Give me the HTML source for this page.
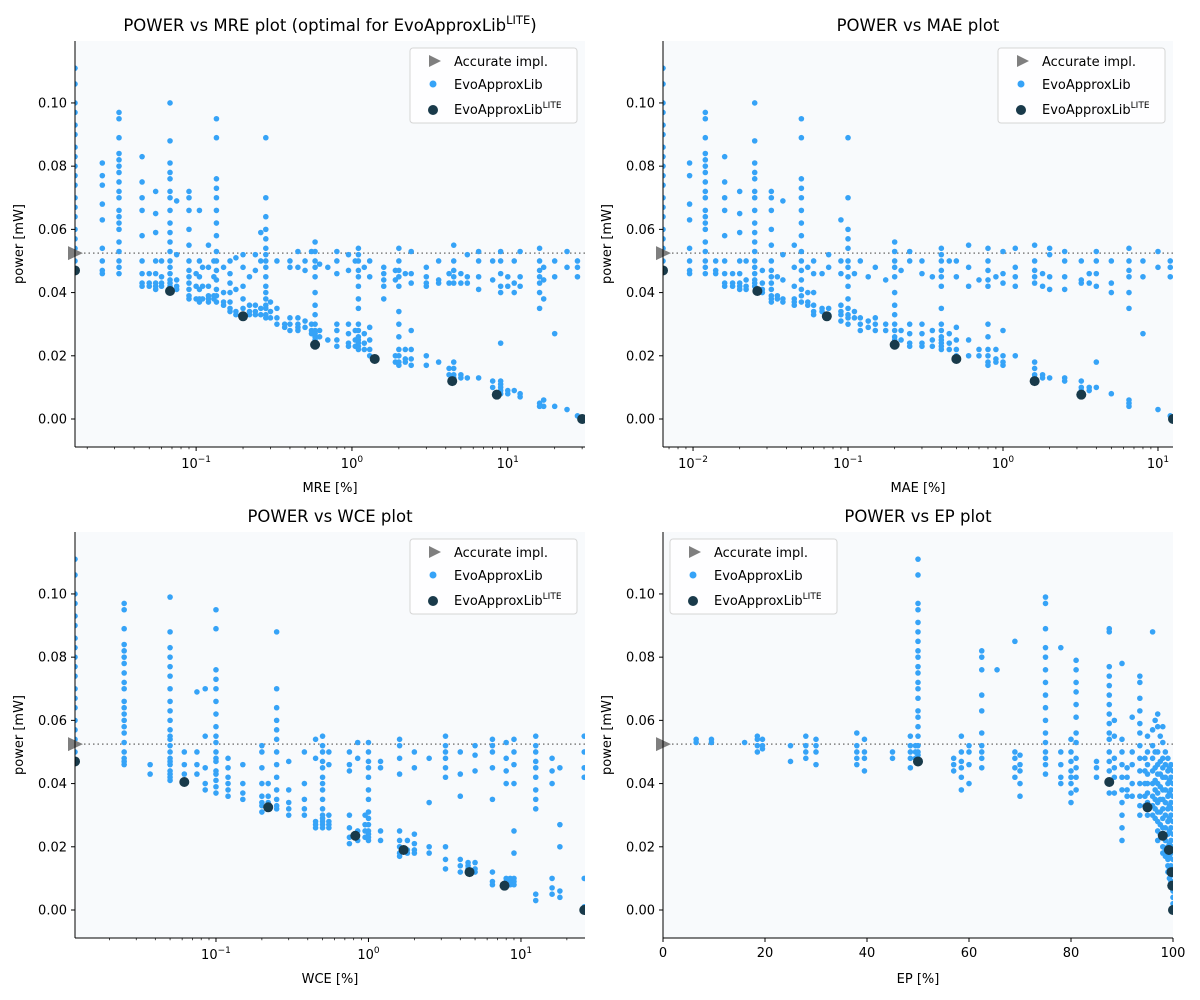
<!DOCTYPE html>
<html><head><meta charset="utf-8"><style>
html,body{margin:0;padding:0;background:#fff;}
svg{display:block;font-family:"DejaVu Sans","Liberation Sans",sans-serif;}
</style></head><body>
<svg id="chart" width="1200" height="1000" viewBox="0 0 1200 1000" xmlns="http://www.w3.org/2000/svg"></svg>
<script>
// ---------- DATA ----------
const yTicks = [0.00, 0.02, 0.04, 0.06, 0.08, 0.10];
const accuratePower = 0.0525;

// MRE panel
const mreColX = [0.0167,0.025,0.032,0.045,0.05,0.055,0.06,0.068,0.075,0.09,0.1,0.105,0.11,0.12,0.13,0.135,0.15,0.165,0.18,0.2,0.22,0.24,0.26,0.28,0.3,0.33,0.37,0.4,0.45,0.5,0.55,0.58,0.62,0.7,0.8,0.95,1.05,1.1,1.2,1.3,1.6,1.9,2.0,2.2,2.4,3.0,3.6,4.2,4.5,5.0,5.5,6.5,8,9,10,11,12,16,17,20,24,28];
const mreColY = [
 [0.111,0.106,0.1,0.097,0.093,0.09,0.086,0.083,0.08,0.077,0.074,0.07,0.067,0.064,0.06,0.057,0.054,0.05],
 [0.081,0.077,0.074,0.068,0.063,0.054,0.05,0.047,0.046],
 [0.097,0.095,0.089,0.084,0.082,0.08,0.078,0.075,0.072,0.07,0.066,0.064,0.062,0.06,0.056,0.053,0.05,0.048,0.046],
 [0.083,0.075,0.07,0.066,0.058,0.05,0.046,0.043,0.042],
 [0.046,0.043,0.042],
 [0.072,0.065,0.059,0.05,0.046,0.043,0.042,0.041],
 [0.05,0.045,0.043,0.042],
 [0.1,0.088,0.081,0.078,0.076,0.072,0.07,0.066,0.062,0.059,0.056,0.053,0.05,0.048,0.046,0.044,0.043,0.042],
 [0.069,0.052,0.044,0.042,0.041],
 [0.072,0.07,0.066,0.06,0.055,0.05,0.047,0.045,0.043,0.041,0.039,0.038],
 [0.046,0.042,0.038],
 [0.066,0.05,0.045,0.041,0.038,0.037],
 [0.048,0.042,0.038],
 [0.055,0.048,0.042,0.039,0.038,0.037],
 [0.05,0.045,0.039,0.038],
 [0.095,0.089,0.076,0.073,0.07,0.066,0.062,0.058,0.053,0.05,0.047,0.044,0.041,0.039,0.037],
 [0.048,0.04,0.037,0.036],
 [0.05,0.046,0.043,0.04,0.037,0.035,0.034],
 [0.051,0.041,0.034,0.033],
 [0.052,0.048,0.042,0.038,0.035,0.033],
 [0.045,0.036,0.034,0.033],
 [0.052,0.047,0.036,0.034,0.033],
 [0.059,0.05,0.035,0.033],
 [0.089,0.07,0.064,0.06,0.057,0.054,0.052,0.05,0.048,0.045,0.042,0.04,0.038,0.036,0.035,0.033,0.032],
 [0.037,0.034,0.032],
 [0.05,0.035,0.032,0.03],
 [0.03,0.029],
 [0.05,0.048,0.032,0.03,0.028],
 [0.053,0.048,0.032,0.03,0.028,0.029],
 [0.05,0.047,0.031,0.029],
 [0.053,0.03,0.028,0.027],
 [0.056,0.053,0.05,0.048,0.045,0.04,0.036,0.033,0.03,0.028,0.027,0.026,0.025],
 [0.049,0.028,0.026],
 [0.048,0.025],
 [0.053,0.05,0.046,0.03,0.028,0.025,0.023],
 [0.052,0.047,0.03,0.027,0.024,0.023],
 [0.05,0.028,0.025,0.023],
 [0.054,0.052,0.05,0.047,0.045,0.042,0.038,0.035,0.03,0.028,0.026,0.025,0.024,0.023,0.022],
 [0.048,0.027,0.024,0.022],
 [0.05,0.045,0.029,0.025,0.022,0.02],
 [0.048,0.046,0.044,0.042,0.038],
 [0.047,0.044,0.02,0.018],
 [0.054,0.05,0.047,0.045,0.042,0.034,0.03,0.026,0.022,0.02,0.018,0.017],
 [0.046,0.022,0.019,0.018],
 [0.053,0.046,0.043,0.028,0.022,0.019,0.017],
 [0.048,0.045,0.043,0.042,0.02,0.017],
 [0.05,0.044,0.043,0.018],
 [0.046,0.043,0.016,0.014],
 [0.055,0.05,0.047,0.045,0.043,0.018,0.016,0.014,0.013,0.012],
 [0.046,0.043,0.014,0.013],
 [0.052,0.045,0.043,0.013],
 [0.053,0.05,0.045,0.041,0.013],
 [0.05,0.044,0.012,0.01],
 [0.053,0.05,0.046,0.042,0.04,0.024,0.012,0.011,0.01,0.009,0.008],
 [0.045,0.042,0.009,0.008],
 [0.05,0.043,0.04,0.009],
 [0.053,0.045,0.042,0.008,0.007],
 [0.054,0.05,0.047,0.045,0.043,0.04,0.035,0.005,0.004],
 [0.048,0.044,0.038,0.006,0.004],
 [0.05,0.045,0.027,0.004],
 [0.053,0.048,0.003],
 [0.05,0.048,0.045,0.001]
];
const mreLiteX = [0.0167,0.068,0.2,0.58,1.4,4.4,8.5,30];
const mreLiteY = [0.047,0.0405,0.0325,0.0235,0.019,0.012,0.0077,0.0];

// MAE panel
const maeColX = [0.0064,0.0095,0.012,0.014,0.016,0.018,0.02,0.022,0.025,0.028,0.032,0.035,0.038,0.045,0.05,0.055,0.06,0.068,0.075,0.09,0.1,0.11,0.12,0.135,0.15,0.175,0.2,0.22,0.25,0.3,0.35,0.4,0.45,0.5,0.6,0.7,0.8,0.9,1.0,1.2,1.6,1.8,2.0,2.5,3.2,3.6,4,5,6.5,8,10,12];
const maeColY = [
 [0.111,0.106,0.1,0.097,0.093,0.09,0.086,0.083,0.08,0.077,0.074,0.07,0.067,0.064,0.06,0.057,0.054,0.05],
 [0.081,0.077,0.068,0.063,0.054,0.05,0.047,0.046],
 [0.097,0.095,0.089,0.084,0.082,0.08,0.078,0.075,0.072,0.07,0.066,0.064,0.062,0.06,0.056,0.053,0.05,0.048,0.046],
 [0.05,0.047,0.046],
 [0.083,0.075,0.07,0.066,0.058,0.05,0.046,0.043,0.042],
 [0.046,0.043,0.042],
 [0.072,0.065,0.059,0.05,0.046,0.043,0.042,0.041],
 [0.05,0.044,0.042,0.041],
 [0.1,0.088,0.081,0.078,0.076,0.072,0.07,0.066,0.062,0.059,0.056,0.053,0.05,0.048,0.046,0.044,0.043,0.042],
 [0.047,0.043,0.041,0.04],
 [0.072,0.07,0.066,0.06,0.055,0.05,0.047,0.045,0.043,0.041,0.039,0.038,0.037],
 [0.045,0.039,0.038],
 [0.069,0.052,0.044,0.038,0.037],
 [0.055,0.048,0.042,0.038,0.037,0.036],
 [0.095,0.089,0.076,0.073,0.07,0.066,0.062,0.058,0.053,0.05,0.047,0.044,0.041,0.039,0.037],
 [0.048,0.04,0.037,0.036],
 [0.05,0.046,0.04,0.036,0.034,0.033],
 [0.046,0.035,0.034],
 [0.052,0.048,0.035,0.033],
 [0.063,0.05,0.046,0.036,0.034,0.033,0.031],
 [0.089,0.07,0.06,0.057,0.054,0.05,0.048,0.045,0.042,0.038,0.035,0.033,0.032,0.03],
 [0.046,0.034,0.032],
 [0.05,0.032,0.03,0.028],
 [0.045,0.031,0.029],
 [0.048,0.032,0.03,0.028],
 [0.044,0.03,0.028],
 [0.056,0.053,0.05,0.048,0.045,0.04,0.036,0.033,0.03,0.028,0.026,0.025,0.024],
 [0.047,0.028,0.025],
 [0.053,0.05,0.03,0.027,0.024,0.023],
 [0.05,0.046,0.03,0.027,0.024,0.023],
 [0.045,0.028,0.025,0.023],
 [0.054,0.052,0.05,0.047,0.045,0.042,0.035,0.03,0.028,0.026,0.025,0.024,0.023,0.022],
 [0.05,0.027,0.024,0.022],
 [0.05,0.045,0.029,0.025,0.022,0.02],
 [0.055,0.048,0.042,0.025,0.02],
 [0.044,0.022,0.02],
 [0.054,0.05,0.047,0.044,0.042,0.03,0.026,0.022,0.02,0.018,0.017],
 [0.045,0.022,0.019,0.018],
 [0.053,0.046,0.043,0.028,0.02,0.018,0.017],
 [0.054,0.048,0.045,0.042,0.02],
 [0.055,0.05,0.047,0.045,0.043,0.018,0.016,0.014,0.013,0.012],
 [0.046,0.042,0.014,0.013],
 [0.054,0.052,0.045,0.041,0.013],
 [0.053,0.05,0.045,0.041,0.013,0.012],
 [0.05,0.044,0.043,0.012,0.01,0.009,0.008],
 [0.046,0.043,0.01,0.009],
 [0.053,0.05,0.046,0.042,0.018,0.01],
 [0.05,0.043,0.04,0.008],
 [0.054,0.05,0.047,0.045,0.04,0.035,0.006,0.005,0.004],
 [0.05,0.045,0.027],
 [0.053,0.048,0.003],
 [0.05,0.048,0.045,0.001]
];
const maeLiteX = [0.0064,0.026,0.073,0.2,0.5,1.6,3.2,12.5];
const maeLiteY = [0.047,0.0405,0.0325,0.0235,0.019,0.012,0.0077,0.0];

// WCE panel
const wceColX = [0.0119,0.025,0.037,0.05,0.062,0.075,0.085,0.1,0.12,0.15,0.2,0.22,0.25,0.3,0.38,0.45,0.5,0.55,0.75,0.85,0.95,1.0,1.2,1.6,1.8,2.0,2.5,3.2,4.0,4.5,5.0,6.5,8,8.5,9,12.5,16,18,26];
const wceColY = [
 [0.111,0.106,0.1,0.097,0.093,0.09,0.086,0.083,0.08,0.077,0.074,0.07,0.067,0.064,0.06,0.057,0.054,0.05],
 [0.097,0.095,0.089,0.084,0.082,0.08,0.078,0.075,0.072,0.07,0.066,0.064,0.062,0.06,0.058,0.056,0.053,0.05,0.048,0.047,0.046],
 [0.046,0.043],
 [0.099,0.088,0.083,0.08,0.077,0.074,0.07,0.066,0.063,0.06,0.057,0.055,0.054,0.052,0.05,0.048,0.047,0.046,0.044,0.043,0.042,0.041],
 [0.05,0.046,0.043,0.041],
 [0.069,0.05,0.046,0.043],
 [0.07,0.055,0.045,0.04,0.038],
 [0.095,0.089,0.076,0.073,0.07,0.066,0.062,0.058,0.055,0.053,0.05,0.048,0.047,0.044,0.043,0.041,0.039,0.037],
 [0.048,0.045,0.042,0.04,0.038,0.036],
 [0.046,0.04,0.037,0.035],
 [0.052,0.05,0.045,0.04,0.036,0.034,0.033,0.031],
 [0.04,0.036,0.034,0.032],
 [0.088,0.07,0.064,0.06,0.057,0.054,0.05,0.046,0.042,0.038,0.035,0.033,0.032],
 [0.047,0.038,0.034,0.032,0.03],
 [0.05,0.04,0.035,0.032,0.03],
 [0.054,0.048,0.028,0.027,0.026],
 [0.055,0.052,0.05,0.047,0.045,0.042,0.04,0.038,0.035,0.032,0.03,0.029,0.028,0.027,0.026],
 [0.05,0.046,0.03,0.028,0.027,0.026],
 [0.05,0.046,0.044,0.03,0.026,0.023,0.021],
 [0.053,0.048,0.025,0.022],
 [0.03,0.027,0.025,0.023],
 [0.053,0.05,0.047,0.045,0.042,0.038,0.035,0.031,0.029,0.027,0.025,0.024,0.023,0.022],
 [0.047,0.045,0.025,0.022],
 [0.054,0.052,0.048,0.043,0.025,0.022,0.02,0.018,0.017],
 [0.022,0.019,0.018],
 [0.05,0.045,0.024,0.021,0.019,0.018],
 [0.048,0.034,0.02,0.018],
 [0.055,0.052,0.05,0.048,0.045,0.042,0.02,0.016,0.013],
 [0.05,0.043,0.036,0.016,0.014,0.012],
 [0.015,0.014,0.013],
 [0.052,0.049,0.044,0.015,0.013,0.012],
 [0.054,0.052,0.05,0.045,0.035,0.012,0.009,0.008],
 [0.053,0.048,0.044,0.04,0.01,0.009,0.008],
 [0.01,0.009,0.008],
 [0.054,0.05,0.046,0.04,0.025,0.018,0.01,0.009,0.008],
 [0.055,0.052,0.05,0.047,0.045,0.042,0.038,0.035,0.032,0.005,0.003],
 [0.048,0.044,0.04,0.01,0.007,0.005],
 [0.045,0.027,0.02,0.006,0.004],
 [0.055,0.05,0.045,0.042,0.01,0.001,0.0]
];
const wceLiteX = [0.0119,0.062,0.22,0.82,1.7,4.6,7.8,26];
const wceLiteY = [0.047,0.0405,0.0325,0.0235,0.019,0.012,0.0077,0.0];

// EP panel
const epColX = [6.5,9.5,16,18.5,19.5,25,28,30,38,39.5,45,48.5,49.5,50,57,58.5,60,62.5,65.5,69,70,75,78,80,81,85,87.5,88.5,90,91,92,93.5,94.5,95,96,96.5,97,97.5,98,98.5,99,99.3,99.6,100];
const epColY = [
 [0.054,0.053],
 [0.054,0.053],
 [0.053],
 [0.055,0.054,0.052,0.05],
 [0.054,0.052,0.051],
 [0.052,0.047],
 [0.055,0.052,0.05,0.048],
 [0.054,0.052,0.05,0.046],
 [0.056,0.052,0.05,0.048,0.046],
 [0.054,0.05,0.048,0.044],
 [0.05,0.048],
 [0.055,0.052,0.05,0.048,0.045],
 [0.052,0.05,0.048],
 [0.111,0.106,0.097,0.095,0.091,0.088,0.085,0.082,0.08,0.077,0.075,0.072,0.07,0.067,0.063,0.061,0.058,0.055,0.052,0.05,0.049],
 [0.048,0.046,0.044],
 [0.055,0.05,0.047,0.045,0.042,0.038],
 [0.052,0.05,0.046,0.04],
 [0.082,0.08,0.076,0.068,0.063,0.056,0.052,0.05,0.048,0.045],
 [0.076],
 [0.085,0.05,0.048,0.045,0.042],
 [0.049,0.046,0.044,0.04,0.036],
 [0.099,0.097,0.089,0.083,0.08,0.076,0.072,0.068,0.064,0.06,0.056,0.053,0.05,0.048,0.046,0.043],
 [0.083,0.05,0.046,0.042,0.04],
 [0.054,0.05,0.047,0.044,0.042,0.04,0.037,0.034],
 [0.079,0.076,0.072,0.069,0.065,0.061,0.056,0.053,0.048,0.045,0.042,0.038],
 [0.047,0.045,0.042],
 [0.089,0.088,0.077,0.074,0.071,0.068,0.065,0.062,0.059,0.056,0.054,0.05,0.047,0.044,0.04,0.037],
 [0.06,0.055,0.048,0.045,0.042,0.037],
 [0.078,0.054,0.05,0.046,0.042,0.038,0.034,0.03,0.026,0.022],
 [0.045,0.042,0.038,0.036],
 [0.061,0.05,0.046,0.04,0.036],
 [0.074,0.072,0.067,0.063,0.059,0.056,0.052,0.048,0.044,0.04,0.036,0.033,0.03],
 [0.048,0.044,0.04,0.036,0.033],
 [0.055,0.05,0.046,0.043,0.04,0.037,0.034,0.032,0.03],
 [0.088,0.057,0.052,0.048,0.044,0.04,0.036,0.033,0.03],
 [0.06,0.05,0.045,0.041,0.038,0.035,0.032,0.029],
 [0.062,0.058,0.05,0.046,0.043,0.04,0.037,0.034,0.031,0.028,0.025,0.022],
 [0.055,0.047,0.043,0.039,0.035,0.031,0.027,0.024],
 [0.058,0.053,0.048,0.045,0.042,0.038,0.035,0.032,0.029,0.026,0.023,0.02,0.018],
 [0.05,0.046,0.042,0.038,0.034,0.03,0.026,0.022,0.019,0.017],
 [0.048,0.044,0.04,0.036,0.032,0.028,0.024,0.02,0.016,0.014,0.012],
 [0.045,0.041,0.037,0.033,0.029,0.025,0.021,0.017,0.013,0.01],
 [0.046,0.042,0.038,0.034,0.03,0.026,0.022,0.018,0.014,0.011,0.009],
 [0.044,0.04,0.036,0.032,0.028,0.024,0.02,0.016,0.012,0.009,0.006,0.004,0.002,0.0]
];
const epLiteX = [50,87.5,95,98,99.2,99.7,99.85,100];
const epLiteY = [0.047,0.0405,0.0325,0.0235,0.019,0.012,0.0077,0.0];

// ---------- DRAWING ----------
const NS = "http://www.w3.org/2000/svg";
const svg = document.getElementById('chart');
function mk(tag, attrs, parent){
  const e = document.createElementNS(NS, tag);
  for (const k in attrs) e.setAttribute(k, attrs[k]);
  (parent||svg).appendChild(e);
  return e;
}
const BLUE = '#36a3f7', DARK = '#193a4a', GRAY = '#7f7f7f';

function panel(cfg){
  const g = mk('g', {});
  
  
  const L = cfg.left, R = cfg.left + 510, T = cfg.top, B = cfg.top + 406;
  const yMin = -0.00886, yMax = 0.1196;
  const sy = v => B - (v - yMin) / (yMax - yMin) * (B - T);
  let sx;
  if (cfg.log) {
    const a = Math.log10(cfg.xMin), b = Math.log10(cfg.xMax);
    sx = v => L + (Math.log10(v) - a) / (b - a) * (R - L);
  } else {
    sx = v => L + (v - cfg.xMin) / (cfg.xMax - cfg.xMin) * (R - L);
  }
  const bg = mk('rect', {x:L, y:T, width:R-L, height:B-T, fill:'#f8fafc'}, g);
  
  
  const al = mk('line', {x1:L, x2:R, y1:sy(accuratePower), y2:sy(accuratePower), stroke:GRAY, 'stroke-width':1.5, 'stroke-dasharray':'1.5,3'}, g);
  
  
  const cid = 'clip-' + cfg.name;
  const cp = mk('clipPath', {id:cid}, g);
  mk('rect', {x:L, y:T, width:R-L, height:B-T}, cp);
  const pg = mk('g', {'clip-path':'url(#'+cid+')'}, g);
  
  
  cfg.colX.forEach((x, i) => {
    cfg.colY[i].forEach(y => {
      const c = mk('circle', {cx:sx(x), cy:sy(y), r:2.8, fill:BLUE}, pg);
      
      
    });
  });
  const lg = mk('g', {'clip-path':'url(#'+cid+')'}, g);
  
  
  cfg.liteX.forEach((x, i) => {
    const c = mk('circle', {cx:sx(x), cy:sy(cfg.liteY[i]), r:5, fill:DARK}, lg);
    
    
  });
  const ay = sy(accuratePower);
  const tri = mk('polygon', {points:`${L-7},${ay-7} ${L+8},${ay} ${L-7},${ay+7}`, fill:GRAY}, g);
  
  
  const sl = mk('line', {x1:L, x2:L, y1:T, y2:B, stroke:'#000', 'stroke-width':1}, g);
  
  
  const sb = mk('line', {x1:L, x2:R, y1:B, y2:B, stroke:'#000', 'stroke-width':1}, g);
  
  
  yTicks.forEach(v => {
    const y = sy(v);
    mk('line', {x1:L-4, x2:L, y1:y, y2:y, stroke:'#000'}, g);
    const t = mk('text', {x:L-8, y:y+4.5, 'text-anchor':'end', 'font-size':13, fill:'#000'}, g);
    t.textContent = v.toFixed(2);
    
    
  });
  if (cfg.log) {
    const d0 = Math.floor(Math.log10(cfg.xMin)), d1 = Math.ceil(Math.log10(cfg.xMax));
    for (let d = d0; d <= d1; d++) {
      for (let m = 1; m < 10; m++) {
        const v = m * Math.pow(10, d);
        if (v < cfg.xMin || v > cfg.xMax) continue;
        const x = sx(v);
        mk('line', {x1:x, x2:x, y1:B, y2:B + (m === 1 ? 4 : 2.2), stroke:'#000', 'stroke-width': m===1?1:0.7}, g);
        if (m === 1) {
          const t = mk('text', {x:x, y:B+21, 'text-anchor':'middle', 'font-size':13, fill:'#000'}, g);
          
          
          const t1 = mk('tspan', {}, t); t1.textContent = '10';
          const t2 = mk('tspan', {dy:-6, 'font-size':9}, t); t2.textContent = d < 0 ? '\u2212' + (-d) : String(d);
        }
      }
    }
  } else {
    cfg.xTicks.forEach(v => {
      const x = sx(v);
      mk('line', {x1:x, x2:x, y1:B, y2:B+4, stroke:'#000'}, g);
      const t = mk('text', {x:x, y:B+19, 'text-anchor':'middle', 'font-size':13, fill:'#000'}, g);
      t.textContent = String(v);
      
      
    });
  }
  const xt = mk('text', {x:(L+R)/2, y:B+45, 'text-anchor':'middle', 'font-size':13, fill:'#000'}, g);
  xt.textContent = cfg.xLabel;
  
  
  const yt = mk('text', {x:0, y:0, 'text-anchor':'middle', 'font-size':13, fill:'#000', transform:`translate(${L-52},${(T+B)/2}) rotate(-90)`}, g);
  yt.textContent = 'power [mW]';
  
  
  const tt = mk('text', {x:(L+R)/2, y:T-10, 'text-anchor':'middle', 'font-size':16.5, fill:'#000'}, g);
  
  
  if (cfg.titleSup) {
    const a = mk('tspan', {}, tt); a.textContent = cfg.title;
    const b = mk('tspan', {dy:-7, 'font-size':11.5}, tt); b.textContent = 'LITE';
    const c = mk('tspan', {dy:7}, tt); c.textContent = ')';
  } else tt.textContent = cfg.title;
  const lx = cfg.legendLeft ? L + 7 : R - 175, ly = T + 7;
  const lgd = mk('g', {}, g);
  
  
  mk('rect', {x:lx, y:ly, width:167, height:75, rx:3, fill:'#fff', 'fill-opacity':0.8, stroke:'#d5d5d5'}, lgd);
  const entries = [['Accurate impl.', 'tri'], ['EvoApproxLib', 'blue'], ['EvoApproxLib', 'dark']];
  entries.forEach((e, i) => {
    const ey = ly + 13 + i * 23 + (i === 2 ? 2 : 0);
    const eg = mk('g', {}, lgd);
    
    
    if (e[1] === 'tri') mk('polygon', {points:`${lx+19},${ey-6} ${lx+31},${ey} ${lx+19},${ey+6}`, fill:GRAY}, eg);
    else if (e[1] === 'blue') mk('circle', {cx:lx+23, cy:ey, r:3.5, fill:BLUE}, eg);
    else mk('circle', {cx:lx+23, cy:ey+1, r:5, fill:DARK}, eg);
    const t = mk('text', {x:lx+44, y:ey+5, 'font-size':13, fill:'#000'}, eg);
    const s = mk('tspan', {}, t); s.textContent = e[0];
    if (e[1] === 'dark') { const s2 = mk('tspan', {dy:-6, 'font-size':9}, t); s2.textContent = 'LITE'; }
  });
}

panel({name:'power-vs-mre-panel', left:75, top:41, log:true, xMin:0.0167, xMax:31.3, colX:mreColX, colY:mreColY, liteX:mreLiteX, liteY:mreLiteY, xLabel:'MRE [%]', title:'POWER vs MRE plot (optimal for EvoApproxLib', titleSup:true});
panel({name:'power-vs-mae-panel', left:663, top:41, log:true, xMin:0.0064, xMax:12.5, colX:maeColX, colY:maeColY, liteX:maeLiteX, liteY:maeLiteY, xLabel:'MAE [%]', title:'POWER vs MAE plot'});
panel({name:'power-vs-wce-panel', left:75, top:532, log:true, xMin:0.0119, xMax:26.3, colX:wceColX, colY:wceColY, liteX:wceLiteX, liteY:wceLiteY, xLabel:'WCE [%]', title:'POWER vs WCE plot'});
panel({name:'power-vs-ep-panel', left:663, top:532, log:false, xMin:0, xMax:100, xTicks:[0,20,40,60,80,100], colX:epColX, colY:epColY, liteX:epLiteX, liteY:epLiteY, xLabel:'EP [%]', title:'POWER vs EP plot', legendLeft:true});
</script>
</body></html>
